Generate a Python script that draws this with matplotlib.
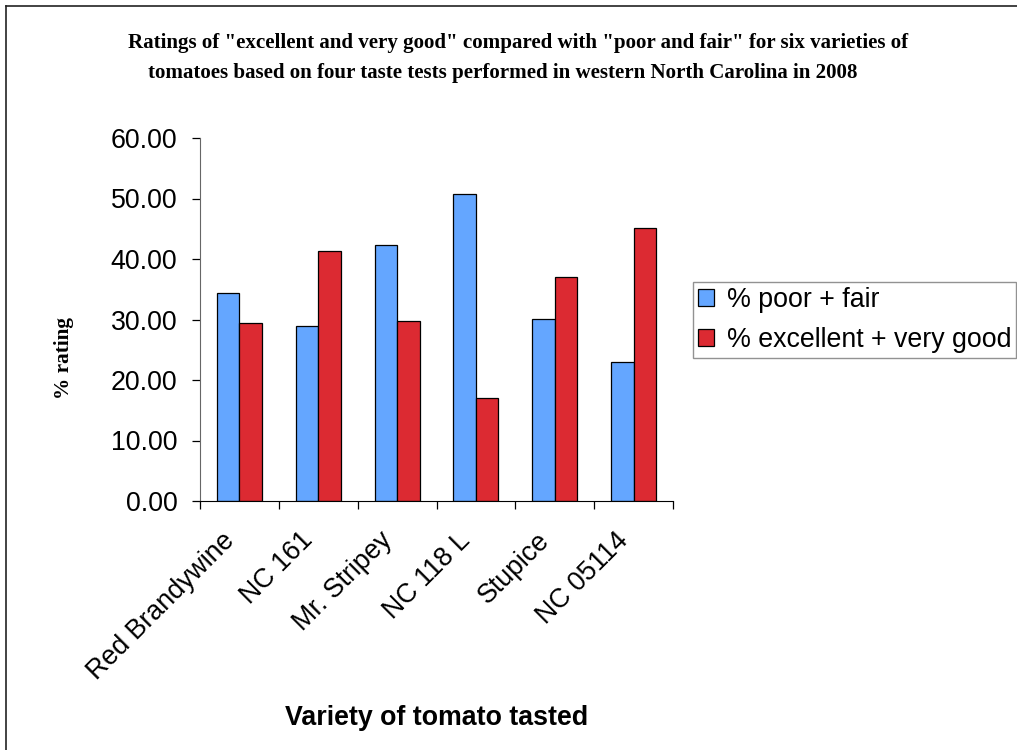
import numpy as np
import matplotlib
matplotlib.use("Agg")
import matplotlib.pyplot as plt
from matplotlib.lines import Line2D

# % of tasters giving each rating, per variety
VARIETIES = ["Red Brandywine", "NC 161", "Mr. Stripey", "NC 118 L", "Stupice", "NC 05114"]
POOR_FAIR = [34.4, 29.0, 42.3, 50.8, 30.1, 23.0]
EXCELLENT_VG = [29.5, 41.4, 29.7, 17.0, 37.0, 45.2]
SERIES_LABELS = ["% poor + fair", "% excellent + very good"]

BLUE = "#64A6FF"
RED = "#DC2A32"
SANS = "Liberation Sans"
SERIF = "Liberation Serif"
FS = 19.3

W, H = 1017, 750
fig = plt.figure(figsize=(W / 100, H / 100), dpi=100, facecolor="white")
ax = fig.add_axes([200 / W, 249 / H, 473 / W, 363 / H])

x = np.arange(len(VARIETIES))
bw = 0.285
ax.bar(x - bw / 2, POOR_FAIR, bw, color=BLUE, edgecolor="black", linewidth=0.9,
       label=SERIES_LABELS[0])
ax.bar(x + bw / 2, EXCELLENT_VG, bw, color=RED, edgecolor="black", linewidth=0.9,
       label=SERIES_LABELS[1])

ax.set_xlim(-0.5, len(VARIETIES) - 0.5)
ax.set_ylim(0, 60)
for s in ("top", "right"):
    ax.spines[s].set_visible(False)
ax.spines["left"].set_color("#666666")
ax.spines["bottom"].set_color("black")

# y axis
ax.set_yticks(np.arange(0, 61, 10))
ax.set_yticklabels([f"{v:.2f}" for v in np.arange(0, 61, 10)], fontfamily=SANS, fontsize=FS)
ax.tick_params(axis="y", direction="out", length=5.8, width=0.9, pad=10.5, color="black")

# x axis: tick marks between categories, labels under each category
ax.set_xticks(np.arange(-0.5, len(VARIETIES), 1))
ax.set_xticklabels([])
ax.tick_params(axis="x", which="major", direction="out", length=5.8, width=0.9)
ax.set_xticks(x, minor=True)
ax.set_xticklabels(VARIETIES, minor=True, rotation=45, ha="right", va="top",
                   fontfamily=SANS, fontsize=FS)
ax.tick_params(axis="x", which="minor", length=0, pad=19)

leg = fig.legend(loc="upper left", bbox_to_anchor=(693 / W, 1 - 282 / H), borderaxespad=0,
                 prop={"family": SANS, "size": FS}, frameon=True, fancybox=False,
                 handlelength=0.6, handleheight=0.6, handletextpad=0.5,
                 borderpad=0.17, labelspacing=0.54)
leg.get_frame().set_edgecolor("#777777")
leg.get_frame().set_linewidth(1.0)

# titles and axis labels
fig.text(518 / W, 1 - 48 / H,
         'Ratings of "excellent and very good" compared with "poor and fair" for six varieties of',
         ha="center", va="baseline", fontfamily=SERIF, fontweight="bold", fontsize=15.1)
fig.text(503 / W, 1 - 78 / H,
         "tomatoes based on four taste tests performed in western North Carolina in 2008",
         ha="center", va="baseline", fontfamily=SERIF, fontweight="bold", fontsize=15.1)
fig.text(64 / W, 1 - 358 / H, "% rating", rotation=90, ha="center", va="center",
         fontfamily=SERIF, fontweight="bold", fontsize=15.3)
fig.text(437 / W, 1 - 725 / H, "Variety of tomato tasted", ha="center", va="baseline",
         fontfamily=SANS, fontweight="bold", fontsize=FS)

# outer chart frame (top and left edges fall inside the image)
fx, fy = 5.5 / W, 1 - 5.5 / H
fig.add_artist(Line2D([fx, fx], [0, fy], transform=fig.transFigure, color="#222222", lw=1.2))
fig.add_artist(Line2D([fx, 1], [fy, fy], transform=fig.transFigure, color="#222222", lw=1.2))

fig.savefig("out.png", dpi=100, facecolor="white")
